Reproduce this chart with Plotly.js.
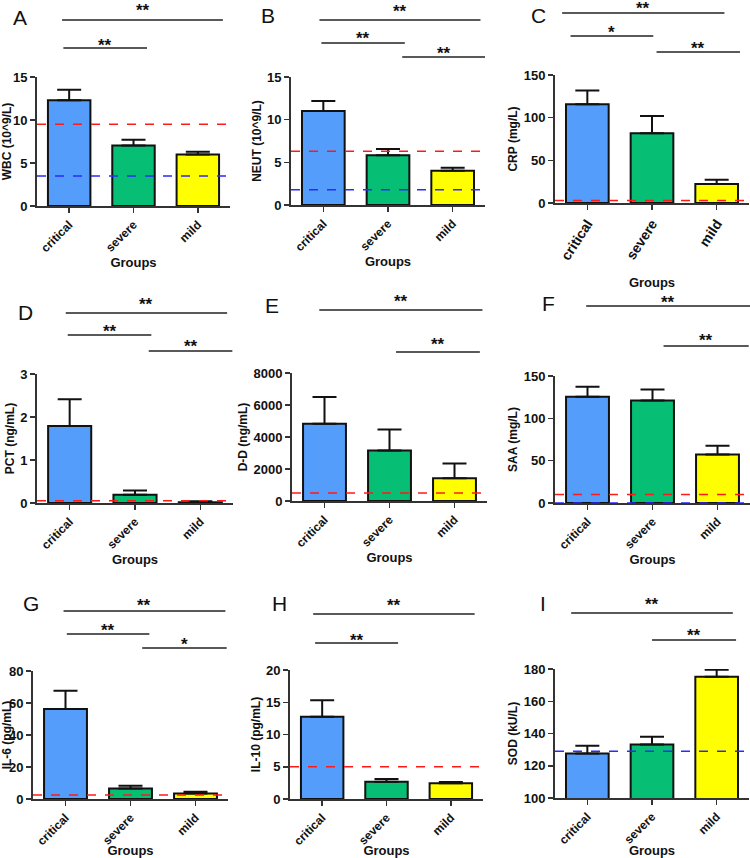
<!DOCTYPE html>
<html>
<head>
<meta charset="utf-8">
<script src="https://cdn.plot.ly/plotly-3.0.1.min.js"></script>
<style>
  html, body { margin: 0; padding: 0; background: #fff; }
  #plot { width: 750px; height: 858px; }
</style>
</head>
<body>
<div id="plot"></div>
<script>
// groups shared by every panel
const groups = ['critical', 'severe', 'mild'];

// means and upper SEM per panel
const wbcMean = [12.3, 7.03, 5.98];
const wbcSem = [1.22, 0.66, 0.32];
const neutMean = [11.03, 5.84, 4.01];
const neutSem = [1.16, 0.71, 0.35];
const crpMean = [115.7, 81.8, 22.2];
const crpSem = [16.0, 20.2, 5.1];
const pctMean = [1.79, 0.19, 0.02];
const pctSem = [0.62, 0.1, 0.02];
const ddMean = [4825, 3154, 1420];
const ddSem = [1670, 1316, 920];
const saaMean = [125.5, 121.2, 57.2];
const saaSem = [11.9, 13.0, 10.3];
const il6Mean = [56.2, 6.6, 3.5];
const il6Sem = [11.4, 1.7, 1.1];
const il10Mean = [12.76, 2.69, 2.43];
const il10Sem = [2.54, 0.41, 0.21];
const sodMean = [127.6, 133.2, 175.2];
const sodSem = [4.8, 4.8, 4.4];

// reference limits: [upper (red), lower (blue)]
const wbcLimits = [9.5, 3.5];
const neutLimits = [6.3, 1.8];
const crpLimits = [3, null];
const pctLimits = [0.05, null];
const ddLimits = [500, null];
const saaLimits = [10, 0];
const il6Limits = [2.5, null];
const il10Limits = [5, null];
const sodLimits = [null, 129];

// significance comparisons
const wbcSig = [['critical', 'mild', '**'], ['critical', 'severe', '**']];
const neutSig = [['critical', 'mild', '**'], ['critical', 'severe', '**'], ['severe', 'mild', '**']];
const crpSig = [['critical', 'mild', '**'], ['critical', 'severe', '*'], ['severe', 'mild', '**']];
const pctSig = [['critical', 'mild', '**'], ['critical', 'severe', '**'], ['severe', 'mild', '**']];
const ddSig = [['critical', 'mild', '**'], ['severe', 'mild', '**']];
const saaSig = [['critical', 'mild', '**'], ['severe', 'mild', '**']];
const il6Sig = [['critical', 'mild', '**'], ['critical', 'severe', '**'], ['severe', 'mild', '*']];
const il10Sig = [['critical', 'mild', '**'], ['critical', 'severe', '**']];
const sodSig = [['critical', 'mild', '**'], ['severe', 'mild', '**']];

const W = 750, H = 858;
const barColors = ['#559dfb', '#06bf74', '#ffff00'];
const limitColors = ['#ff1a1a', '#2a2aff'];
const font = 'Arial, "Liberation Sans", sans-serif';

// panel placement: box = [left, right, top, bottom] in px,
// sigPos = [x0 offset, x1 offset, level, star gap px] per comparison
const panels = [
    { letter: 'A', at: [20, 17], title: 'WBC (10^9/L)', mean: wbcMean, sem: wbcSem, limits: wbcLimits,
      range: [0, 15], dtick: 5, box: [37, 230, 77, 206], sig: wbcSig,
      sigPos: [[-0.11, 0.39, 1.442, 13], [-0.09, 0.21, 1.225, 6]], xs: 0 },
    { letter: 'B', at: [268, 15], title: 'NEUT (10^9/L)', mean: neutMean, sem: neutSem, limits: neutLimits,
      range: [0, 15], dtick: 5, box: [291, 485, 77, 205], sig: neutSig,
      sigPos: [[-0.06, 0.43, 1.445, 12], [-0.03, 0.26, 1.266, 8], [0.22, 0.51, 1.156, 7]], xs: 0 },
    { letter: 'C', at: [538, 15], title: 'CRP (mg/L)', mean: crpMean, sem: crpSem, limits: crpLimits,
      range: [0, 150], dtick: 50, box: [555, 749, 75, 203], sig: crpSig,
      sigPos: [[-0.39, 0.12, 1.484, 8], [-0.26, 0.02, 1.305, 7], [0.07, 0.36, 1.18, 7]], xs: 16,
      xfont: 14, xangle: -57 },
    { letter: 'D', at: [25, 312], title: 'PCT (ng/mL)', mean: pctMean, sem: pctSem, limits: pctLimits,
      range: [0, 3], dtick: 1, box: [37, 233, 374, 503], sig: pctSig,
      sigPos: [[-0.06, 0.41, 1.473, 12], [-0.03, 0.25, 1.302, 7], [0.21, 0.49, 1.178, 8]], xs: 0 },
    { letter: 'E', at: [272, 305], title: 'D-D (ng/mL)', mean: ddMean, sem: ddSem, limits: ddLimits,
      range: [0, 8000], dtick: 2000, box: [292, 487, 373, 501], sig: ddSig,
      sigPos: [[-0.08, 0.43, 1.492, 12], [0.1, 0.39, 1.164, 11]], xs: 1 },
    { letter: 'F', at: [548, 303], title: 'SAA (mg/L)', mean: saaMean, sem: saaSem, limits: saaLimits,
      range: [0, 150], dtick: 50, box: [555, 750, 376, 503], sig: saaSig,
      sigPos: [[-0.02, 0.5, 1.551, 7], [0.17, 0.48, 1.236, 9]], xs: 0 },
    { letter: 'G', at: [31, 603], title: 'IL-6 (pg/mL)', mean: il6Mean, sem: il6Sem, limits: il6Limits,
      range: [0, 80], dtick: 20, box: [33, 228, 671, 799], sig: il6Sig,
      sigPos: [[-0.03, 0.46, 1.469, 9], [0.02, 0.29, 1.289, 7], [0.18, 0.48, 1.18, 7]], xs: 0 },
    { letter: 'H', at: [279, 603], title: 'IL-10 (pg/mL)', mean: il10Mean, sem: il10Sem, limits: il10Limits,
      range: [0, 20], dtick: 5, box: [290, 483, 670, 799], sig: il10Sig,
      sigPos: [[-0.14, 0.37, 1.434, 12], [-0.11, 0.18, 1.209, 6]], xs: 5 },
    { letter: 'I', at: [543, 603], title: 'SOD (kU/L)', mean: sodMean, sem: sodSem, limits: sodLimits,
      range: [100, 180], dtick: 20, box: [555, 749, 669, 798], sig: sodSig,
      sigPos: [[-0.25, 0.25, 1.434, 12], [0.0, 0.3, 1.225, 8]], xs: 0 }
];

const data = [];
const layout = {
    width: W,
    height: H,
    margin: { l: 0, r: 0, t: 0, b: 0 },
    paper_bgcolor: '#fff',
    plot_bgcolor: 'rgba(0,0,0,0)',
    showlegend: false,
    font: { family: font, color: '#111' },
    shapes: [],
    annotations: []
};

panels.forEach((p, i) => {
    const n = i + 1;
    const xa = 'x' + (n === 1 ? '' : n);
    const ya = 'y' + (n === 1 ? '' : n);
    const [l, r, t, b] = p.box;

    data.push({
        type: 'bar',
        x: groups,
        y: p.mean,
        xaxis: xa,
        yaxis: ya,
        width: 0.66,
        marker: { color: barColors, line: { color: '#111', width: 2 } },
        error_y: {
            type: 'data',
            symmetric: false,
            array: p.sem,
            arrayminus: p.mean.map(() => 0),
            color: '#111',
            thickness: 2,
            width: 12
        },
        hoverinfo: 'skip'
    });

    layout['xaxis' + (n === 1 ? '' : n)] = {
        domain: [l / W, r / W],
        anchor: ya,
        type: 'category',
        range: [-0.5, 2.5],
        showline: true, linecolor: '#333', linewidth: 2,
        ticks: 'outside', ticklen: 5, tickwidth: 1.5, tickcolor: '#333',
        tickangle: p.xangle || -45,
        tickfont: { family: font, size: p.xfont || 12, weight: 'bold', color: '#111' },
        showgrid: false, zeroline: false,
        title: { text: 'Groups', standoff: p.xs, font: { family: font, size: 13, weight: 'bold', color: '#111' } }
    };
    layout['yaxis' + (n === 1 ? '' : n)] = {
        domain: [1 - b / H, 1 - t / H],
        anchor: xa,
        range: p.range,
        dtick: p.dtick,
        showline: true, linecolor: '#333', linewidth: 2,
        ticks: 'outside', ticklen: 5, tickwidth: 1.5, tickcolor: '#333',
        tickfont: { family: font, size: 13, weight: 'bold', color: '#111' },
        showgrid: false, zeroline: false,
        title: { text: p.title, standoff: 3, font: { family: font, size: 12, weight: 'bold', color: '#111' } }
    };

    // reference range lines
    p.limits.forEach((v, k) => {
        if (v === null) return;
        layout.shapes.push({
            type: 'line', xref: xa + ' domain', yref: ya,
            x0: 0, x1: 1, y0: v, y1: v,
            line: { color: limitColors[k], width: 1.5, dash: 'dash' }
        });
    });

    // significance brackets
    p.sig.forEach((s, k) => {
        const [a, c, label] = s;
        const [o0, o1, lvl, gap] = p.sigPos[k];
        const x0 = groups.indexOf(a) + o0;
        const x1 = groups.indexOf(c) + o1;
        layout.shapes.push({
            type: 'line', xref: xa, yref: ya + ' domain',
            x0: x0, x1: x1, y0: lvl, y1: lvl,
            line: { color: '#222', width: 1.5 }
        });
        layout.annotations.push({
            xref: xa, yref: ya + ' domain',
            x: (x0 + x1) / 2, y: lvl,
            xanchor: 'center', yanchor: 'bottom',
            yshift: gap - 15,
            text: label, showarrow: false,
            font: { family: font, size: 17, weight: 'bold', color: '#111' }
        });
    });

    // panel letter
    layout.annotations.push({
        xref: 'paper', yref: 'paper',
        x: p.at[0] / W, y: 1 - p.at[1] / H,
        xanchor: 'center', yanchor: 'middle',
        text: p.letter, showarrow: false,
        font: { family: font, size: 21, color: '#111' }
    });
});

Plotly.newPlot('plot', data, layout, { staticPlot: true, displayModeBar: false });
</script>
</body>
</html>
